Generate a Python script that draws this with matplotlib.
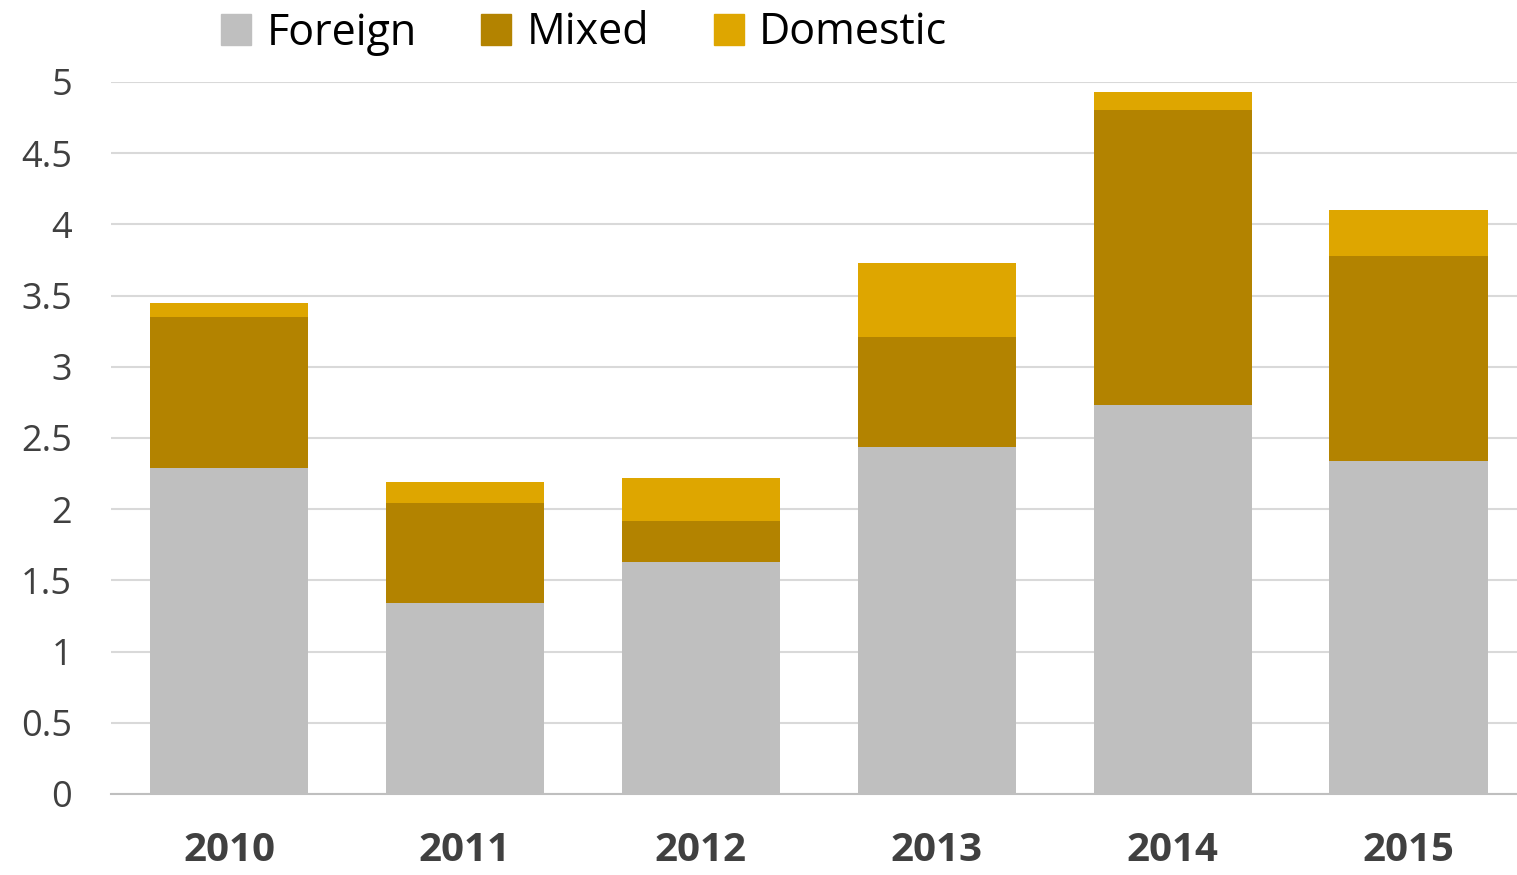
import numpy as np
import matplotlib
matplotlib.use("Agg")
import matplotlib.pyplot as plt
from matplotlib.patches import Patch

years = ["2010", "2011", "2012", "2013", "2014", "2015"]
foreign = [2.29, 1.34, 1.63, 2.44, 2.73, 2.34]
mixed = [1.06, 0.70, 0.29, 0.77, 2.07, 1.44]
domestic = [0.10, 0.15, 0.30, 0.52, 0.13, 0.32]

colors = {"Foreign": "#BFBFBF", "Mixed": "#B38300", "Domestic": "#DEA600"}

plt.rcParams['font.family'] = ['Open Sans', 'DejaVu Sans']

fig = plt.figure(figsize=(15.17, 8.75), dpi=100)
ax = fig.add_axes([0.0732, 0.0926, 0.9268, 0.8137])

x = np.arange(len(years))
w = 0.67
f = np.array(foreign)
m = np.array(mixed)
d = np.array(domestic)
ax.bar(x, f, w, color=colors["Foreign"], zorder=2)
ax.bar(x, m, w, bottom=f, color=colors["Mixed"], zorder=2)
ax.bar(x, d, w, bottom=f + m, color=colors["Domestic"], zorder=2)

ax.set_xlim(-0.5, 5.46)
ax.set_ylim(0, 5)
ax.set_yticks(np.arange(0, 5.01, 0.5))
ax.set_yticklabels(["0", "0.5", "1", "1.5", "2", "2.5", "3", "3.5", "4", "4.5", "5"])
ax.set_xticks(x)
ax.set_xticklabels(years, fontweight="bold")
ax.grid(axis="y", color="#D9D9D9", linewidth=1.5, zorder=0)
for s in ["top", "right", "left"]:
    ax.spines[s].set_visible(False)
ax.spines["bottom"].set_color("#BFBFBF")
ax.spines["bottom"].set_linewidth(1.5)
ax.tick_params(axis="y", length=0, labelsize=26, labelcolor="#404040", pad=28)
ax.tick_params(axis="x", length=0, labelsize=29, labelcolor="#404040", pad=27)

handles = [Patch(color=colors[k]) for k in ["Foreign", "Mixed", "Domestic"]]
fig.legend(handles, ["Foreign", "Mixed", "Domestic"], loc="center",
           bbox_to_anchor=(0.385, 0.962), ncol=3, frameon=False, fontsize=31,
           handlelength=0.7, handleheight=0.7, handletextpad=0.35, columnspacing=1.5)

fig.savefig("out.png", dpi=100)
